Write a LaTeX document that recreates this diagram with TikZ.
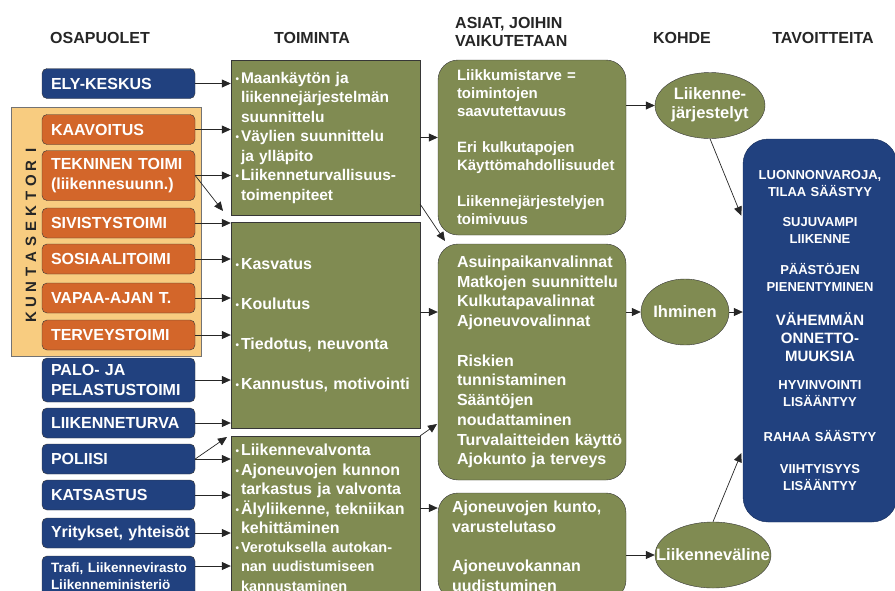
\documentclass[tikz,border=0pt]{standalone}
\usepackage{fontspec}
\setmainfont{Liberation Sans}
\usetikzlibrary{positioning,arrows.meta,calc,shapes.geometric}
\definecolor{elyblue}{RGB}{33,65,127}
\definecolor{kuntaor}{RGB}{211,102,42}
\definecolor{kuntabg}{RGB}{248,204,128}
\definecolor{olive}{RGB}{128,139,82}
\definecolor{edge}{RGB}{55,55,55}
\hyphenpenalty=10000
\exhyphenpenalty=10000
\newcommand{\blt}{\leavevmode\llap{\raisebox{1pt}{\fontsize{10}{10}\selectfont\textbullet}\hspace{2pt}}}

\begin{document}
\begin{tikzpicture}[x=1pt, y=-1pt,
  osa/.style={draw=edge, fill=elyblue, rounded corners=5pt, minimum width=153pt, text width=135pt,
    inner xsep=9pt, inner ysep=0pt, align=left, text=white, font=\fontsize{16}{19.5}\selectfont\bfseries},
  kunta/.style={osa, fill=kuntaor},
  toim/.style={draw=edge, fill=olive, minimum width=189pt, text width=169pt, inner xsep=10pt,
    inner ysep=0pt, align=left, text=white, font=\fontsize{15.5}{19.5}\selectfont\bfseries},
  asia/.style={draw=edge, fill=olive, rounded corners=20pt, minimum width=188pt, text width=150pt,
    inner xsep=19pt, inner ysep=0pt, align=left, text=white},
  kohde/.style={ellipse, draw=edge, fill=olive, inner sep=0pt, text=white,
    font=\fontsize{16.5}{19}\selectfont\bfseries},
  otsikko/.style={font=\fontsize{16}{18.5}\selectfont\bfseries, text=black!85, inner sep=0pt},
  arr/.style={-{Triangle[length=9pt,width=8pt]}, draw=black!85, line width=0.7pt}]
\useasboundingbox (0,0) rectangle (895,590);
% otsikot
\node[otsikko] (hOsa) at (100,38) {OSAPUOLET};
\node[otsikko] (hToim) at (312,38) {TOIMINTA};
\node[otsikko, align=left, anchor=west] (hAsia) at (455,32) {ASIAT, JOIHIN\\VAIKUTETAAN};
\node[otsikko] (hKoh) at (682,38) {KOHDE};
\node[otsikko] (hTav) at (823,38) {TAVOITTEITA};
% osapuolet
\node[osa, minimum height=30pt] (ely) at (118.5,83.5) {ELY-KESKUS};
\node[draw=black!55, fill=kuntabg, minimum width=190pt, minimum height=249pt, inner sep=0pt] (ksek) at (106,231.5) {};
\foreach \c [count=\i] in {K,U,N,T,A,S,E,K,T,O,R,I}
  \node[rotate=90, font=\fontsize{15}{15}\selectfont\bfseries, text=black!85, inner sep=0pt] (ks\i) at (31,{332.1-15.1*\i}) {\c};
\node[kunta, minimum height=30pt] (kaav) at (118.5,129.5) {KAAVOITUS};
\node[kunta, minimum height=50pt] (tek) at (118.5,175.5) {TEKNINEN~TOIMI\\(liikennesuunn.)};
\node[kunta, minimum height=30pt] (siv) at (118.5,223) {SIVISTYSTOIMI};
\node[kunta, minimum height=30pt] (sos) at (118.5,259) {SOSIAALITOIMI};
\node[kunta, minimum height=30pt] (vap) at (118.5,298) {VAPAA-AJAN~T.};
\node[kunta, minimum height=30pt] (terv) at (118.5,335) {TERVEYSTOIMI};
\node[osa, minimum height=44pt] (palo) at (118.5,380) {PALO-~JA\\PELASTUSTOIMI};
\node[osa, minimum height=30pt] (lt) at (118.5,423) {LIIKENNETURVA};
\node[osa, minimum height=30pt] (pol) at (118.5,459) {POLIISI};
\node[osa, minimum height=30pt] (kats) at (118.5,495) {KATSASTUS};
\node[osa, minimum height=30pt] (yrit) at (118.5,533) {Yritykset,~yhteisöt};
\node[osa, minimum height=40pt, font=\fontsize{13.5}{17}\selectfont\bfseries] (trafi) at (118.5,576) {Trafi,~Liikennevirasto\\Liikenneministeriö};
% toiminta
\node[toim, minimum height=155pt] (act1) at (325.5,137.5) {\blt Maankäytön~ja\\ liikennejärjestelmän\\ suunnittelu\\
  \blt Väylien~suunnittelu\\ ja~ylläpito\\ \blt Liikenneturvallisuus-\\ toimenpiteet};
\node[toim, minimum height=206pt, font=\fontsize{16}{19.5}\selectfont\bfseries] (act2) at (325.5,325) {\blt Kasvatus\\[20.5pt]
  \blt Koulutus\\[20.5pt] \blt Tiedotus,~neuvonta\\[20.5pt] \blt Kannustus,~motivointi};
\node[toim, minimum height=164pt, font=\fontsize{16}{19.5}\selectfont\bfseries] (act3) at (325.5,518) {\blt Liikennevalvonta\\
  \blt Ajoneuvojen~kunnon\\ tarkastus~ja~valvonta\\ \blt Älyliikenne,~tekniikan\\ kehittäminen\\
  {\fontsize{14.5}{19}\selectfont\blt Verotuksella~autokan-\\ nan~uudistumiseen\\ kannustaminen}};
% asiat
\node[asia, minimum height=175pt, font=\fontsize{15}{18}\selectfont\bfseries] (asiaA) at (532,147.5) {Liikkumistarve~=\\
  toimintojen\\ saavutettavuus\\[18pt] Eri~kulkutapojen\\ Käyttömahdollisuudet\\[18pt] Liikennejärjestelyjen\\ toimivuus};
\node[asia, minimum height=236pt, font=\fontsize{16}{19.7}\selectfont\bfseries] (asiaB) at (532,362) {Asuinpaikanvalinnat\\
  Matkojen~suunnittelu\\ Kulkutapavalinnat\\ Ajoneuvovalinnat\\[20pt] Riskien\\ tunnistaminen\\ Sääntöjen\\
  noudattaminen\\ Turvalaitteiden~käyttö\\ Ajokunto~ja~terveys};
\node[asia, minimum height=107pt, text width=160pt, inner xsep=14pt, font=\fontsize{16}{19.5}\selectfont\bfseries] (asiaC)
  at (532,546.5) {Ajoneuvojen~kunto,\\ varustelutaso\\[20pt] Ajoneuvokannan\\ uudistuminen};
% kohde
\node[kohde, minimum width=110pt, minimum height=66pt] (lj) at (710,105.5)
  {\makebox[0pt]{\begin{tabular}{@{}c@{}}Liikenne-\\järjestelyt\end{tabular}}};
\node[kohde, minimum width=88pt, minimum height=66pt] (ih) at (685,312) {\makebox[0pt]{Ihminen}};
\node[kohde, minimum width=116pt, minimum height=66pt] (lv) at (713,555) {\makebox[0pt]{Liikenneväline}};
% tavoitteita
\node[draw=elyblue!70!black, fill=elyblue, rounded corners=25pt, minimum width=154pt, minimum height=383pt,
  text width=146pt, inner xsep=4pt, align=center, text=white, font=\fontsize{13}{17}\selectfont\bfseries] (tav)
  at (820,330.5) {LUONNONVAROJA,\\ TILAA~SÄÄSTYY\\[13pt] SUJUVAMPI\\ LIIKENNE\\[14pt] PÄÄSTÖJEN\\ PIENENTYMINEN\\[17pt]
  {\fontsize{15}{17}\selectfont VÄHEMMÄN\\[1pt] ONNETTO-\\[1pt] MUUKSIA}\\[11pt] HYVINVOINTI\\ LISÄÄNTYY\\[18pt]
  RAHAA~SÄÄSTYY\\[15pt] VIIHTYISYYS\\ LISÄÄNTYY};
% nuolet
\coordinate (tekTip) at (223,211);
\coordinate (polTip) at (227,437);
\coordinate (tipB) at (445,241);
\coordinate (tipC) at (437,424);
\foreach \n in {ely,kaav,tek} \draw[arr] (\n.east) -- (\n.east -| act1.west);
\foreach \n in {siv,sos,vap,terv,palo,lt} \draw[arr] (\n.east) -- (\n.east -| act2.west);
\foreach \n in {pol,kats,yrit} \draw[arr] (\n.east) -- (\n.east -| act3.west);
\draw[arr] ($(trafi.east)+(0,-10)$) -- ($(trafi.east -| act3.west)+(0,-10)$);
\draw[arr] (tek.east) -- (tekTip);
\draw[arr] (pol.east) -- (polTip);
\draw[arr] (act1.east) -- (act1.east -| asiaA.west);
\draw[arr] (act2.east |- ih) -- (asiaB.west |- ih);
\draw[arr] ($(act3.east)+(0,-10)$) -- ($(act3.east -| asiaC.west)+(0,-10)$);
\draw[arr] ([yshift=11pt]act1.south east) -- (tipB);
\draw[arr] (act3.north east) -- (tipC);
\draw[arr] (asiaA.east |- lj) -- (lj.west);
\draw[arr] (asiaB.east |- ih) -- (ih.west);
\draw[arr] (asiaC.east |- lv) -- (lv.west);
\draw[arr, shorten >=4pt] (lj.south) -- ($(tav.north west)!0.21!(tav.south west)$);
\draw[arr] (ih.east) -- (ih.east -| tav.west);
\draw[arr, shorten >=4pt] (lv.north) -- ($(tav.north west)!0.81!(tav.south west)$);
\end{tikzpicture}
\end{document}
